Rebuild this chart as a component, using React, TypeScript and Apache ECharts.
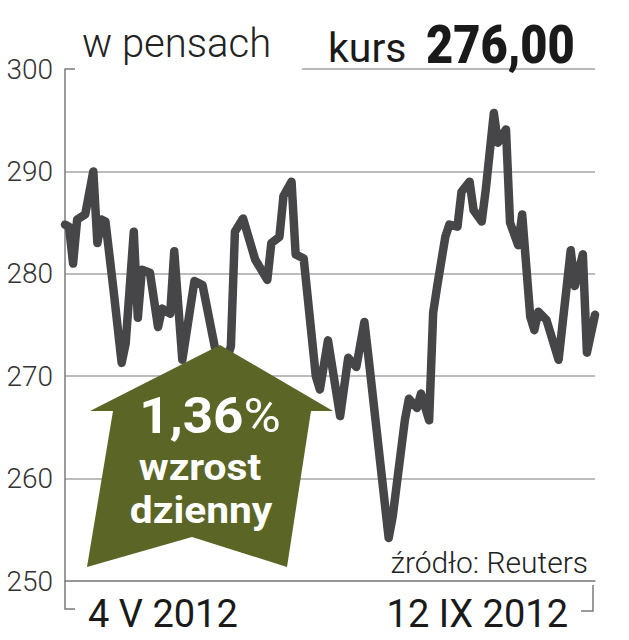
import React, { useEffect, useRef } from "react";
import * as echarts from "echarts";

// Session dates (2012) and closing price in pence
const dates: string[] = [
  "2012-05-04", "2012-05-05", "2012-05-06", "2012-05-07", "2012-05-09", "2012-05-11",
  "2012-05-12", "2012-05-13", "2012-05-14", "2012-05-16", "2012-05-18", "2012-05-19",
  "2012-05-21", "2012-05-22", "2012-05-23", "2012-05-25", "2012-05-27", "2012-05-28",
  "2012-05-30", "2012-05-31", "2012-06-02", "2012-06-05", "2012-06-07", "2012-06-10",
  "2012-06-12", "2012-06-14", "2012-06-15", "2012-06-17", "2012-06-20", "2012-06-23",
  "2012-06-24", "2012-06-26", "2012-06-27", "2012-06-29", "2012-06-30", "2012-07-02",
  "2012-07-05", "2012-07-06", "2012-07-08", "2012-07-11", "2012-07-13", "2012-07-15",
  "2012-07-17", "2012-07-18", "2012-07-23", "2012-07-24", "2012-07-27", "2012-07-28",
  "2012-07-30", "2012-07-31", "2012-08-02", "2012-08-03", "2012-08-04", "2012-08-06",
  "2012-08-07", "2012-08-09", "2012-08-10", "2012-08-12", "2012-08-13", "2012-08-15",
  "2012-08-16", "2012-08-18", "2012-08-19", "2012-08-21", "2012-08-22", "2012-08-24",
  "2012-08-25", "2012-08-27", "2012-08-28", "2012-08-29", "2012-08-31", "2012-09-03",
  "2012-09-06", "2012-09-07", "2012-09-09", "2012-09-10", "2012-09-12",
];

const prices: number[] = [
  284.8, 284.6, 281.0, 285.3, 285.8, 290.0,
  283.0, 285.3, 285.1, 278.4, 271.3, 273.2,
  284.1, 275.7, 280.4, 280.1, 274.8, 276.6,
  276.1, 282.2, 271.6, 279.3, 278.9, 272.9,
  270.5, 272.9, 284.1, 285.4, 281.4, 279.4,
  283.0, 283.6, 287.6, 289.0, 281.9, 281.5,
  270.0, 268.7, 273.5, 266.1, 271.8, 270.9,
  275.3, 271.9, 254.2, 256.3, 265.7, 267.8,
  266.9, 268.3, 265.7, 276.2, 278.8, 283.6,
  284.8, 284.6, 288.0, 289.0, 286.2, 285.1,
  288.2, 295.7, 292.8, 294.1, 285.0, 282.8,
  285.8, 275.8, 274.5, 276.3, 275.5, 271.6,
  282.3, 278.8, 281.9, 272.3, 276.0,
];

const yTicks: number[] = [250, 260, 270, 280, 290, 300];
const startLabel = "4 V 2012";
const endLabel = "12 IX 2012";
const unitLabel = "w pensach";
const priceLabel = "kurs";
const priceValue = "276,00";
const changeValue = "1,36";
const changeLine1 = "wzrost";
const changeLine2 = "dzienny";
const sourceLabel = "źródło: Reuters";

const FONT = "Roboto, 'Noto Sans', sans-serif";

export default function App() {
  const ref = useRef<HTMLDivElement>(null);

  useEffect(() => {
    if (!ref.current) return;
    const chart = echarts.init(ref.current, undefined, { renderer: "svg" });
    const seriesData = dates.map((d, i) => [d, prices[i]]);

    chart.setOption({
      animation: false,
      backgroundColor: "#ffffff",
      grid: { left: 65, right: 34, top: 69, bottom: 59, containLabel: false },
      xAxis: {
        type: "time",
        min: dates[0],
        max: dates[dates.length - 1],
        axisLine: { show: true, lineStyle: { color: "#8a8a8a", width: 1.5 } },
        axisTick: { show: false },
        axisLabel: { show: false },
        splitLine: { show: false },
      },
      yAxis: {
        type: "value",
        min: yTicks[0],
        max: yTicks[yTicks.length - 1],
        interval: 10,
        axisLine: { show: true, lineStyle: { color: "#7a7a7a", width: 1.5 } },
        axisTick: { show: false },
        axisLabel: {
          margin: 12,
          fontSize: 28,
          fontFamily: FONT,
          fontWeight: 300,
          color: "#333333",
        },
        splitLine: {
          show: true,
          showMaxLine: false,
          lineStyle: { color: "#a6a6a6", width: 1.5 },
        },
      },
      series: [
        {
          type: "line",
          data: seriesData,
          symbol: "none",
          z: 3,
          lineStyle: { color: "#464648", width: 8.5, join: "round", cap: "round" },
        },
      ],
      graphic: [
        // top partial line under the price, and axis corner ticks
        { type: "line", z: 50, shape: { x1: 302, y1: 69, x2: 595, y2: 69 }, style: { stroke: "#a0a0a0", lineWidth: 1.5 } },
        { type: "line", z: 50, shape: { x1: 65, y1: 69, x2: 75, y2: 69 }, style: { stroke: "#7a7a7a", lineWidth: 1.5 } },
        { type: "polyline", z: 50, shape: { points: [[65, 581], [65, 609], [75, 609]] }, style: { stroke: "#7a7a7a", lineWidth: 1.5, fill: null } },
        { type: "polyline", z: 50, shape: { points: [[593, 585], [593, 611], [581, 611]] }, style: { stroke: "#7a7a7a", lineWidth: 1.5, fill: null } },
        // title texts
        { type: "text", z: 50, x: 82, y: 43, style: { text: unitLabel, font: `300 40px ${FONT}`, fill: "#222", verticalAlign: "middle", align: "left" } },
        { type: "text", z: 50, x: 328, y: 48, style: { text: priceLabel, font: `400 41px ${FONT}`, fill: "#1a1a1a", verticalAlign: "middle", align: "left" } },
        { type: "text", z: 50, x: 426, y: 44, scaleX: 0.87, originX: 0, style: { text: priceValue, font: `900 54px ${FONT}`, fill: "#1a1a1a", verticalAlign: "middle", align: "left" } },
        // arrow
        {
          type: "polygon",
          z: 60,
          shape: { points: [[220, 345], [333, 411], [311, 411], [287, 567], [192, 537], [87, 567], [113, 411], [90, 411]] },
          style: { fill: "#5b6526" },
        },
        {
          type: "text", z: 61, x: 210, y: 416, scaleX: 1.06, originX: 0,
          style: {
            text: `{a|${changeValue}}{b|%}`,
            align: "center", verticalAlign: "middle",
            rich: {
              a: { font: `700 50px ${FONT}`, fill: "#ffffff" },
              b: { font: `400 48px ${FONT}`, fill: "#ffffff" },
            },
          },
        },
        { type: "text", z: 61, x: 200, y: 467, scaleX: 1.1, originX: 0, style: { text: changeLine1, font: `700 37px ${FONT}`, fill: "#ffffff", align: "center", verticalAlign: "middle" } },
        { type: "text", z: 61, x: 201, y: 510, scaleX: 1.1, originX: 0, style: { text: changeLine2, font: `700 37px ${FONT}`, fill: "#ffffff", align: "center", verticalAlign: "middle" } },
        // source
        { type: "text", z: 50, x: 588, y: 562, style: { text: sourceLabel, font: `300 30px ${FONT}`, fill: "#222", align: "right", verticalAlign: "middle" } },
        // date labels
        { type: "text", z: 50, x: 88, y: 614, style: { text: startLabel, font: `400 38px ${FONT}`, fill: "#1a1a1a", align: "left", verticalAlign: "middle" } },
        { type: "text", z: 50, x: 568, y: 614, style: { text: endLabel, font: `400 38px ${FONT}`, fill: "#1a1a1a", align: "right", verticalAlign: "middle" } },
      ],
    });

    return () => chart.dispose();
  }, []);

  return (
    <div
      ref={ref}
      style={{ position: "fixed", left: 0, top: 0, width: 629, height: 640, background: "#fff" }}
    />
  );
}
